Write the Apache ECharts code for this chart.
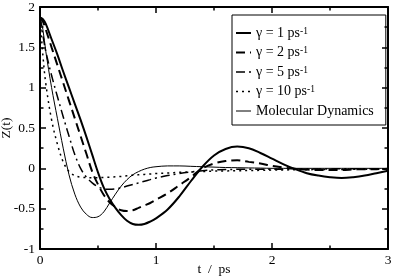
<!DOCTYPE html>
<html>
<head>
<meta charset="utf-8">
<script src="https://cdn.jsdelivr.net/npm/echarts@6/dist/echarts.min.js"></script>
<style>
    html, body { margin: 0; padding: 0; background: #fff; }
    #chart { width: 396px; height: 276px; }
</style>
</head>
<body>
<div id="chart"></div>
<script>
    // time axis (ps), shared by all curves
    var tValues = [0, 0.025, 0.05, 0.1, 0.15, 0.2, 0.25, 0.3, 0.35, 0.4, 0.45, 0.5, 0.55, 0.6, 0.65, 0.7, 0.75, 0.8, 0.85, 0.9, 0.95, 1.0,
        1.1, 1.2, 1.3, 1.4, 1.5, 1.6, 1.7, 1.8, 1.9, 2.0, 2.1, 2.2, 2.3, 2.4, 2.5, 2.6, 2.7, 2.8, 2.9, 3.0];
    // Z(t)
    var gamma1 = [1.87, 1.85, 1.79, 1.6, 1.41, 1.2, 1.0, 0.8, 0.6, 0.39, 0.17, -0.05, -0.24, -0.38, -0.49, -0.58, -0.65, -0.69, -0.70, -0.69, -0.66, -0.62,
        -0.51, -0.35, -0.16, 0.02, 0.16, 0.24, 0.27, 0.25, 0.19, 0.12, 0.05, -0.01, -0.06, -0.09, -0.11, -0.12, -0.11, -0.09, -0.06, -0.03];
    var gamma2 = [1.87, 1.82, 1.72, 1.5, 1.28, 1.06, 0.84, 0.62, 0.4, 0.18, -0.04, -0.2, -0.33, -0.42, -0.48, -0.52, -0.53, -0.52, -0.49, -0.46, -0.43, -0.39,
        -0.31, -0.21, -0.11, 0.0, 0.06, 0.09, 0.10, 0.08, 0.06, 0.03, 0.01, -0.005, -0.015, -0.02, -0.02, -0.02, -0.015, -0.01, -0.01, -0.005];
    var gamma5 = [1.87, 1.65, 1.45, 1.15, 0.89, 0.64, 0.4, 0.17, 0.0, -0.11, -0.18, -0.23, -0.255, -0.26, -0.255, -0.24, -0.22, -0.2, -0.18, -0.16, -0.14, -0.12,
        -0.09, -0.065, -0.045, -0.03, -0.02, -0.015, -0.012, -0.01, -0.01, -0.01, -0.01, -0.008, -0.008, -0.007, -0.007, -0.006, -0.006, -0.005, -0.005, -0.005];
    var gamma10 = [1.87, 1.4, 1.05, 0.6, 0.3, 0.08, -0.04, -0.09, -0.11, -0.115, -0.117, -0.115, -0.113, -0.11, -0.105, -0.1, -0.092, -0.085, -0.08, -0.075, -0.07, -0.065,
        -0.058, -0.05, -0.045, -0.04, -0.035, -0.032, -0.03, -0.027, -0.025, -0.022, -0.02, -0.018, -0.017, -0.015, -0.014, -0.013, -0.012, -0.011, -0.01, -0.01];
    var molDyn = [1.87, 1.72, 1.45, 1.0, 0.62, 0.25, -0.08, -0.32, -0.48, -0.57, -0.61, -0.60, -0.54, -0.43, -0.32, -0.22, -0.14, -0.08, -0.04, -0.01, 0.01, 0.02,
        0.03, 0.03, 0.025, 0.02, 0.015, 0.01, 0.008, 0.005, 0.003, 0.0, 0, 0, 0, 0, 0, 0, 0, 0, 0, 0];

    var xTicks = [0, 1, 2, 3];
    var yTicks = [-1, -0.5, 0, 0.5, 1, 1.5, 2];
    var legendNames = ['g1', 'g2', 'g5', 'g10', 'md'];
    var legendLabels = {
        g1: ['γ = 1 ps', '-1'],
        g2: ['γ = 2 ps', '-1'],
        g5: ['γ = 5 ps', '-1'],
        g10: ['γ = 10 ps', '-1'],
        md: ['Molecular Dynamics', '']
    };

    var font = 'Liberation Serif';

    function pairs(vals) {
        return tValues.map(function (t, i) { return [t, vals[i]]; });
    }

    function lineSeries(name, vals, width, type) {
        return {
            name: name,
            type: 'line',
            data: pairs(vals),
            showSymbol: false,
            symbol: 'none',
            smooth: 0.35,
            lineStyle: { color: '#000', width: width, type: type },
            itemStyle: { color: '#000' }
        };
    }

    function axisCommon() {
        return {
            axisLine: { show: true, onZero: false, lineStyle: { color: '#000', width: 2 } },
            axisTick: { show: true, inside: true, length: 6, lineStyle: { color: '#000', width: 1.5 } },
            minorTick: { show: true, splitNumber: 2, length: 3.5, lineStyle: { color: '#000', width: 1.5 } },
            splitLine: { show: false },
            minorSplitLine: { show: false }
        };
    }

    var chart = echarts.init(document.getElementById('chart'), null, { renderer: 'canvas' });

    var xBottom = Object.assign(axisCommon(), {
        type: 'value', position: 'bottom', min: xTicks[0], max: xTicks[xTicks.length - 1], interval: 1,
        name: 't  /  ps', nameLocation: 'middle', nameGap: 13, nameMoveOverlap: false,
        nameTextStyle: { fontFamily: font, fontSize: 13.5, color: '#000' },
        axisLabel: { fontFamily: font, fontSize: 13.5, color: '#000', margin: 4 }
    });
    var xTop = Object.assign(axisCommon(), {
        type: 'value', position: 'top', min: xTicks[0], max: xTicks[xTicks.length - 1], interval: 1,
        axisLabel: { show: false }
    });
    var yLeft = Object.assign(axisCommon(), {
        type: 'value', position: 'left', min: yTicks[0], max: yTicks[yTicks.length - 1], interval: 0.5,
        name: 'Z(t)', nameLocation: 'middle', nameGap: 27, nameRotate: 90, nameMoveOverlap: false,
        nameTextStyle: { fontFamily: font, fontSize: 13.5, color: '#000' },
        axisLabel: { fontFamily: font, fontSize: 13.5, color: '#000', margin: 5 }
    });
    var yRight = Object.assign(axisCommon(), {
        type: 'value', position: 'right', min: yTicks[0], max: yTicks[yTicks.length - 1], interval: 0.5,
        axisLabel: { show: false }
    });

    var option = {
        animation: false,
        backgroundColor: '#fff',
        grid: { left: 40, right: 8, top: 7, bottom: 27, containLabel: false, outerBoundsMode: 'none' },
        xAxis: [xBottom, xTop],
        yAxis: [yLeft, yRight],
        legend: {
            data: legendNames,
            orient: 'vertical',
            left: 232,
            top: 15,
            itemWidth: 15,
            itemHeight: 10,
            itemGap: 5.5,
            padding: [11, 12, 7, 3],
            borderColor: '#000',
            borderWidth: 1,
            borderRadius: 0,
            inactiveColor: '#000',
            itemStyle: { opacity: 0 },
            lineStyle: { width: 'inherit' },
            textStyle: {
                fontFamily: font, fontSize: 14, color: '#000',
                rich: {
                    a: { fontFamily: font, fontSize: 14, color: '#000', lineHeight: 14 },
                    s: { fontFamily: font, fontSize: 9.5, color: '#000', verticalAlign: 'top', lineHeight: 9 }
                }
            },
            formatter: function (name) {
                var l = legendLabels[name];
                return l[1] ? '{a|' + l[0] + '}{s|' + l[1] + '}' : '{a|' + l[0] + '}';
            }
        },
        series: [
            lineSeries('g1', gamma1, 2, 'solid'),
            lineSeries('g2', gamma2, 2, [9, 5]),
            lineSeries('g5', gamma5, 1.5, [9, 4, 2, 4]),
            lineSeries('g10', gamma10, 1.5, [2, 4]),
            lineSeries('md', molDyn, 1, 'solid')
        ]
    };
    chart.setOption(option);
</script>
</body>
</html>
